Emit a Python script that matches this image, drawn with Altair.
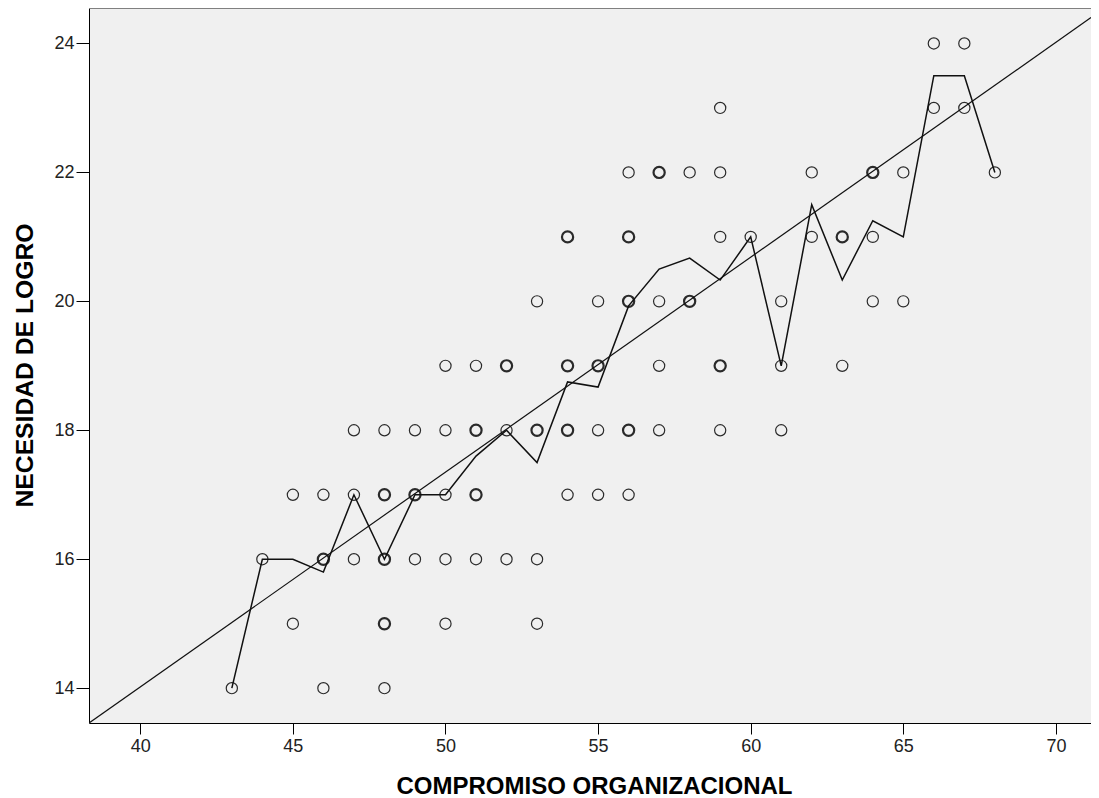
import altair as alt
import pandas as pd

# Scatter points: x (COMPROMISO ORGANIZACIONAL), y (NECESIDAD DE LOGRO), n = overlapping cases (1 or 2+)
pt_x = [43, 44, 45, 45, 46, 46, 46, 47, 47, 47,
        48, 48, 48, 48, 48, 49, 49, 49, 50, 50,
        50, 50, 50, 51, 51, 51, 51, 52, 52, 52,
        53, 53, 53, 53, 54, 54, 54, 54, 55, 55,
        55, 55, 56, 56, 56, 56, 56, 57, 57, 57,
        57, 58, 58, 59, 59, 59, 59, 59, 60, 61,
        61, 61, 62, 62, 63, 63, 64, 64, 64, 65,
        65, 66, 66, 67, 67, 68]
pt_y = [14, 16, 17, 15, 17, 16, 14, 18, 17, 16,
        18, 17, 16, 15, 14, 18, 17, 16, 19, 18,
        17, 16, 15, 19, 18, 17, 16, 19, 18, 16,
        20, 18, 16, 15, 21, 19, 18, 17, 20, 19,
        18, 17, 22, 21, 20, 18, 17, 22, 20, 19,
        18, 22, 20, 23, 22, 21, 19, 18, 21, 20,
        19, 18, 22, 21, 21, 19, 22, 21, 20, 22,
        20, 24, 23, 24, 23, 22]
pt_n = [1, 1, 1, 1, 1, 2, 1, 1, 1, 1,
        1, 2, 2, 2, 1, 1, 2, 1, 1, 1,
        1, 1, 1, 1, 2, 2, 1, 2, 1, 1,
        1, 2, 1, 1, 2, 2, 2, 1, 1, 2,
        1, 1, 1, 2, 2, 2, 1, 2, 1, 1,
        1, 1, 2, 1, 1, 1, 2, 1, 1, 1,
        1, 1, 1, 1, 2, 1, 2, 1, 1, 1,
        1, 1, 1, 1, 1, 1]

# Mean of NECESIDAD DE LOGRO at each value of COMPROMISO ORGANIZACIONAL
mean_x = [43, 44, 45, 46, 47, 48, 49, 50, 51, 52, 53, 54, 55,
          56, 57, 58, 59, 60, 61, 62, 63, 64, 65, 66, 67, 68]
mean_y = [14, 16, 16, 15.8, 17, 16, 17, 17, 17.6, 18, 17.5, 18.75, 18.67,
          19.93, 20.5, 20.67, 20.33, 21, 19, 21.5, 20.33, 21.25, 21, 23.5, 23.5, 22]

# Linear fit (total)
fit_intercept = 0.687
fit_slope = 0.3333

x_domain = [38.32, 71.15]
y_domain = [13.46, 24.55]
x_ticks = [40, 45, 50, 55, 60, 65, 70]
y_ticks = [14, 16, 18, 20, 22, 24]

XT = "COMPROMISO ORGANIZACIONAL"
YT = "NECESIDAD DE LOGRO"

pts = pd.DataFrame({"x": pt_x, "y": pt_y, "n": pt_n})
means = pd.DataFrame({"x": mean_x, "y": mean_y})
fit = pd.DataFrame({"x": x_domain,
                    "y": [fit_intercept + fit_slope * v for v in x_domain]})

FONT = "Liberation Sans"
W, H = 1002, 715

xs = alt.Scale(domain=x_domain, nice=False, zero=False)
ys = alt.Scale(domain=y_domain, nice=False, zero=False)

x_axis = alt.Axis(values=x_ticks, format="d", title=XT, grid=False, domainColor="#000000",
                  tickColor="#000000", tickSize=11, labelPadding=3,
                  labelFont=FONT, labelFontSize=18, labelColor="#222222",
                  titleFont=FONT, titleFontSize=24, titleFontWeight="bold",
                  titleColor="#000000", titleBaseline="alphabetic",
                  titleY=70, titleX=505, titleAlign="center")
y_axis = alt.Axis(values=y_ticks, format="d", title=YT, grid=False, domainColor="#000000",
                  tickColor="#000000", tickSize=13, labelPadding=2,
                  labelFont=FONT, labelFontSize=18, labelColor="#222222",
                  titleFont=FONT, titleFontSize=24.7, titleFontWeight="bold",
                  titleColor="#000000", titleAngle=270, titleBaseline="alphabetic",
                  titleX=-57, titleY=357, titleAlign="center")

points = alt.Chart(pts).mark_point(shape="circle", filled=False, size=125,
                                   color="#2a2a2a", opacity=1).encode(
    x=alt.X("x:Q", scale=xs, axis=x_axis),
    y=alt.Y("y:Q", scale=ys, axis=y_axis),
    strokeWidth=alt.StrokeWidth("n:Q", scale=alt.Scale(domain=[1, 2], range=[1.2, 2.2]),
                                legend=None),
)

mean_line = alt.Chart(means).mark_line(color="#111111", strokeWidth=1.5).encode(
    x=alt.X("x:Q", scale=xs), y=alt.Y("y:Q", scale=ys))

fit_line = alt.Chart(fit).mark_line(color="#111111", strokeWidth=1.2, clip=True).encode(
    x=alt.X("x:Q", scale=xs), y=alt.Y("y:Q", scale=ys))

# top frame of the plot area (gray), as in the original
top_frame = alt.Chart(pts).mark_rule(color="#808080", strokeWidth=2).encode(
    x=alt.value(0), x2=alt.value(W), y=alt.value(0))

chart = alt.layer(points, mean_line, fit_line, top_frame).properties(
    width=W, height=H,
    autosize=alt.AutoSizeParams(type="none"),
    padding={"left": 81, "top": 0, "right": 0, "bottom": 75},
    background="#ffffff",
).configure_view(fill="#f0f0f0", strokeWidth=0)

chart.save("out.html", embed_options={"renderer": "svg", "actions": False})
